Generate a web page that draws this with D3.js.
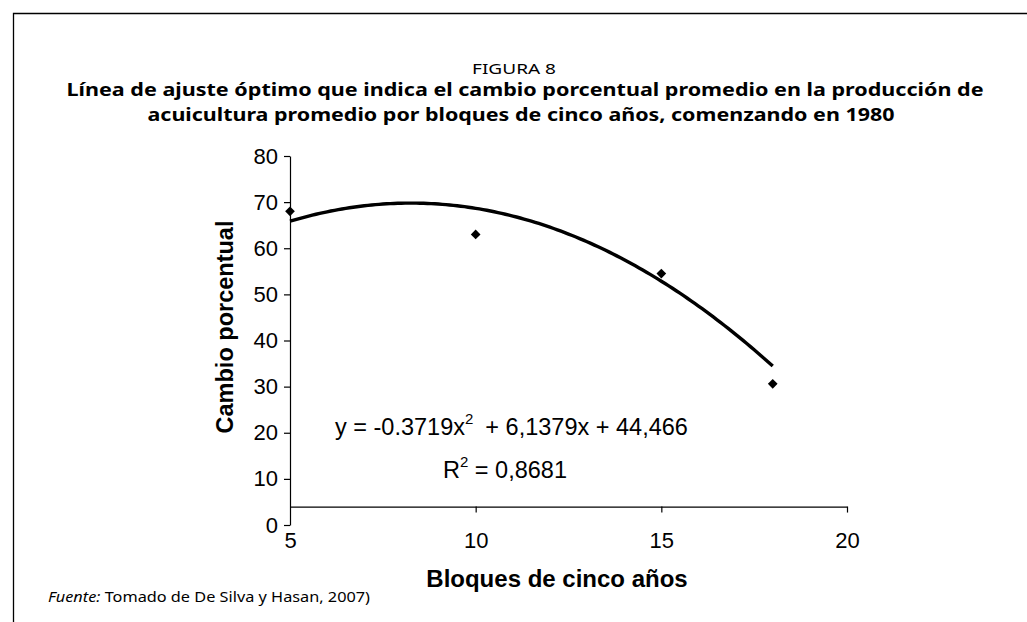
<!DOCTYPE html>
<html>
<head>
<meta charset="utf-8">
<script src="https://cdn.jsdelivr.net/npm/d3@7"></script>
<style>
  html, body { margin: 0; padding: 0; background: #fff; }
  svg { display: block; }
</style>
</head>
<body>
<svg id="chart" width="1027" height="622"></svg>
<script>
// Observed points: five-year block vs. percentage change
const blocks = [5, 10, 15, 18];
const pctChange = [68.0, 63.0, 54.5, 30.6];

// Quadratic trendline coefficients (a, b, c) as printed on the chart
const fitCoefficients = [-0.3719, 6.1379, 44.466];
const fitRange = [5, 18];

const xTicks = [5, 10, 15, 20];
const yTicks = [0, 10, 20, 30, 40, 50, 60, 70, 80];

const svg = d3.select("#chart");
const W = 1027, H = 622;

// Frame
svg.append("path")
  .attr("d", `M13.5,${H} L13.5,13.5 L${W},13.5`)
  .attr("fill", "none").attr("stroke", "#000").attr("stroke-width", 1.3);

// Titles
const titleFont = "'Noto Sans', 'Open Sans', sans-serif";
svg.append("text").attr("x", 514).attr("y", 74).attr("text-anchor", "middle")
  .attr("textLength", 84).attr("lengthAdjust", "spacingAndGlyphs")
  .style("font-family", titleFont).style("font-size", "15px").text("FIGURA 8");
svg.append("text").attr("x", 525).attr("y", 96).attr("text-anchor", "middle")
  .attr("textLength", 917).attr("lengthAdjust", "spacingAndGlyphs")
  .style("font-family", titleFont).style("font-size", "18px").style("font-weight", "bold")
  .text("Línea de ajuste óptimo que indica el cambio porcentual promedio en la producción de");
svg.append("text").attr("x", 521).attr("y", 121).attr("text-anchor", "middle")
  .attr("textLength", 747).attr("lengthAdjust", "spacingAndGlyphs")
  .style("font-family", titleFont).style("font-size", "18px").style("font-weight", "bold")
  .text("acuicultura promedio por bloques de cinco años, comenzando en 1980");

// Scales
const x = d3.scaleLinear().domain([5, 20]).range([290, 847]);
const y = d3.scaleLinear().domain([0, 80]).range([525, 156]);
const axisFont = "'Liberation Sans', Arial, sans-serif";

// Y axis
const yAxis = svg.append("g").attr("transform", "translate(290,0)")
  .call(d3.axisLeft(y).tickValues(yTicks).tickSize(6).tickPadding(6).tickSizeOuter(0));
yAxis.select(".domain").attr("stroke", "#000").attr("stroke-width", 1.2);
yAxis.selectAll(".tick line").attr("stroke", "#000").attr("stroke-width", 1.2);
yAxis.selectAll("text").style("font-family", axisFont).style("font-size", "22px").attr("fill", "#000");

// X axis crosses the y axis at 4
const xAxis = svg.append("g").attr("transform", `translate(0,${y(4)})`)
  .call(d3.axisBottom(x).tickValues(xTicks).tickSize(6).tickPadding(20).tickSizeOuter(0));
xAxis.select(".domain").attr("stroke", "#000").attr("stroke-width", 1.2);
xAxis.selectAll(".tick line").attr("stroke", "#000").attr("stroke-width", 1.2)
  .attr("opacity", d => d === 5 ? 0 : 1);
xAxis.selectAll("text").style("font-family", axisFont).style("font-size", "22px").attr("fill", "#000");

// Axis titles
svg.append("text").attr("x", 557).attr("y", 587).attr("text-anchor", "middle")
  .style("font-family", axisFont).style("font-size", "24px").style("font-weight", "bold")
  .text("Bloques de cinco años");
svg.append("text").attr("transform", "translate(233,327) rotate(-90)").attr("text-anchor", "middle")
  .style("font-family", axisFont).style("font-size", "23.5px").style("font-weight", "bold")
  .text("Cambio porcentual");

// Trendline from printed coefficients
const [a, b, c] = fitCoefficients;
const fitX = d3.range(fitRange[0], fitRange[1] + 0.001, 0.1);
svg.append("path")
  .datum(fitX)
  .attr("fill", "none").attr("stroke", "#000").attr("stroke-width", 3.4)
  .attr("stroke-linejoin", "round")
  .attr("d", d3.line().x(d => x(d)).y(d => y(a * d * d + b * d + c)));

// Data markers
svg.append("g").selectAll("path")
  .data(blocks.map((d, i) => [d, pctChange[i]]))
  .join("path")
  .attr("transform", d => `translate(${x(d[0])},${y(d[1])})`)
  .attr("d", d3.symbol(d3.symbolDiamond2, 60))
  .attr("fill", "#000");

// Equation labels
const eq = svg.append("text").attr("x", 335).attr("y", 435)
  .style("font-family", axisFont).style("font-size", "23.5px");
eq.append("tspan").text("y = -0.3719x");
eq.append("tspan").attr("dy", -11).style("font-size", "15px").text("2");
eq.append("tspan").attr("dy", 11).attr("dx", 12).text("+ 6,1379x + 44,466");

const r2 = svg.append("text").attr("x", 443).attr("y", 478)
  .style("font-family", axisFont).style("font-size", "23.5px");
r2.append("tspan").text("R");
r2.append("tspan").attr("dy", -11).style("font-size", "15px").text("2");
r2.append("tspan").attr("dy", 11).text(" = 0,8681");

// Source note
const src = svg.append("text").attr("x", 48).attr("y", 602)
  .attr("textLength", 322).attr("lengthAdjust", "spacingAndGlyphs")
  .style("font-family", titleFont).style("font-size", "13.5px");
src.append("tspan").style("font-style", "italic").text("Fuente:");
src.append("tspan").text(" Tomado de De Silva y Hasan, 2007)");
</script>
</body>
</html>
